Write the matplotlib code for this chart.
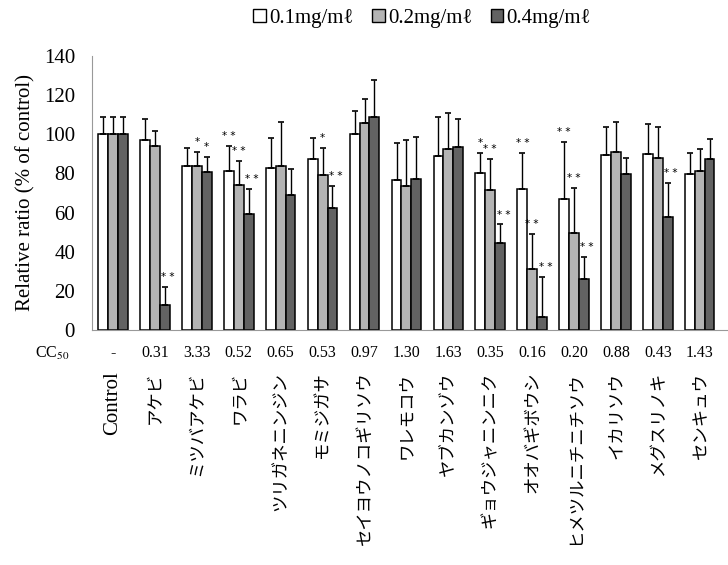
import numpy as np
import matplotlib
matplotlib.use("Agg")
import matplotlib.pyplot as plt
from matplotlib.patches import Patch
from matplotlib.transforms import blended_transform_factory

plt.rcParams['font.family'] = ['Liberation Serif', 'DejaVu Serif', 'Noto Sans CJK JP']
plt.rcParams['mathtext.fontset'] = 'stix'

names = ['Control', 'アケビ', 'ミツバアケビ', 'ワラビ', 'ツリガネニンジン', 'モミジガサ',
         'セイヨウノコギリソウ', 'ワレモコウ', 'ヤブカンゾウ', 'ギョウジャニンニク',
         'オオバギボウシ', 'ヒメツルニチニチソウ', 'イカリソウ', 'メグスリノキ', 'センキュウ']
cc50 = ['-', '0.31', '3.33', '0.52', '0.65', '0.53', '0.97', '1.30', '1.63',
        '0.35', '0.16', '0.20', '0.88', '0.43', '1.43']
doses = ['0.1mg/mℓ', '0.2mg/mℓ', '0.4mg/mℓ']

low = [100, 96.9, 83.7, 81.1, 82.8, 87.1, 100, 76.5, 88.8, 80.3, 71.8, 67.0, 89.6, 89.8, 79.9]
mid = [100, 93.9, 83.7, 74.3, 83.8, 79.1, 105.8, 73.6, 92.2, 71.4, 31.3, 49.7, 91.1, 87.8, 81.1]
high = [100, 12.6, 80.8, 59.2, 68.9, 62.1, 108.8, 77.2, 93.5, 44.2, 6.5, 25.9, 79.8, 57.5, 87.4]

low_sd = [9, 11, 9.5, 12.8, 15.5, 11.2, 11.7, 19, 20, 10.2, 18.7, 29, 14.1, 15.3, 10.4]
mid_sd = [9, 8, 7.3, 12, 22.5, 14, 12.4, 23.7, 18.7, 15.8, 17.7, 22.9, 15.2, 15.8, 11.4]
high_sd = [9, 9.5, 7.6, 12.9, 13.1, 11.7, 19, 21.4, 14.5, 9.7, 20.7, 11.5, 7.8, 17.7, 10.2]

low_sig = ['', '', '', '**', '', '', '', '', '', '*', '**', '**', '', '', '']
mid_sig = ['', '', '*', '**', '', '*', '', '', '', '**', '**', '**', '', '', '']
high_sig = ['', '**', '*', '**', '', '**', '', '', '', '**', '**', '**', '', '**', '']

colors = ['white', '#b4b4b4', '#626262']

fig = plt.figure(figsize=(7.28, 5.65), dpi=100)
ax = fig.add_axes([0.126, 0.416, 0.872, 0.485])

x = np.arange(len(names))
w = 0.235
series = [(low, low_sd, low_sig), (mid, mid_sd, mid_sig), (high, high_sd, high_sig)]
for i, (vals, sd, sig) in enumerate(series):
    pos = x + (i - 1) * w
    ax.bar(pos, vals, w, color=colors[i], edgecolor='black', linewidth=1.1, zorder=2)
    ax.errorbar(pos, vals, yerr=[np.zeros(len(vals)), sd], fmt='none',
                ecolor='black', elinewidth=1.0, capsize=2.5, capthick=1.2, zorder=3)
    for p, v, s, t in zip(pos, vals, sd, sig):
        if t:
            dx = 0.08 if (i == 2 and len(t) == 2) else 0
            ax.text(p + dx, v + s + 2.5, ' '.join(t), ha='center', va='bottom',
                    fontsize=7.5, family='DejaVu Sans')

ax.set_ylim(0, 140)
ax.set_xlim(-0.51, 14.64)
ax.set_yticks(range(0, 141, 20))
ax.tick_params(axis='y', length=0, labelsize=15, pad=12)
ax.set_ylabel('Relative ratio (% of control)', fontsize=15, labelpad=6)

ax.set_xticks(x)
ax.set_xticklabels(names, rotation=90, va='top', ha='center')
ax.tick_params(axis='x', length=0, pad=30)
for lab in ax.get_xticklabels():
    if lab.get_text() == 'Control':
        lab.set_fontsize(15)
        lab.set_family(['Liberation Serif'])
    else:
        lab.set_fontsize(12.5)
        lab.set_family(['Noto Sans CJK JP'])

for side in ['top', 'right']:
    ax.spines[side].set_visible(False)
ax.spines['left'].set_color('#999999')
ax.spines['bottom'].set_color('#999999')

# CC50 row under the axis
tr = blended_transform_factory(ax.transData, ax.transAxes)
for xi, c in zip(x, cc50):
    ax.text(xi, -0.085, c, transform=tr, ha='center', va='center', fontsize=11.5)
ax.text(-1.45, -0.085, 'CC$_{\\mathrm{50}}$', transform=tr, ha='center', va='center',
        fontsize=11.5)

handles = [Patch(facecolor=colors[i], edgecolor='black', linewidth=1.0) for i in range(3)]
fig.legend(handles, doses, loc='center', bbox_to_anchor=(0.58, 0.968), ncol=3,
           frameon=False, handlelength=0.6, handleheight=0.6,
           handletextpad=0.15, columnspacing=0.9,
           prop={'family': ['Liberation Serif', 'DejaVu Serif'], 'size': 15})

fig.savefig('out.png', dpi=100)
